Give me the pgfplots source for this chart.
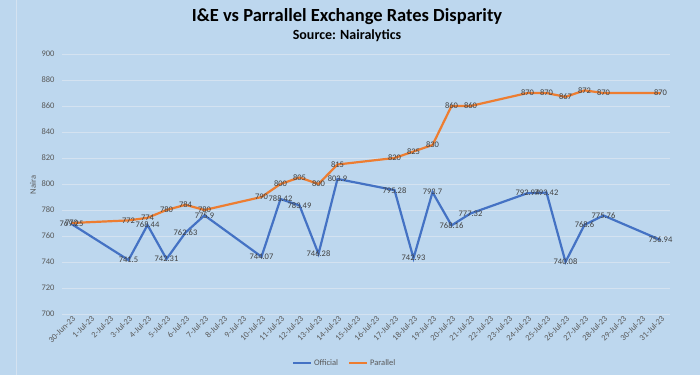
\documentclass[border=0pt]{standalone}
\usepackage{fontspec}
\setmainfont{Carlito}
\usepackage{pgfplots}
\pgfplotsset{compat=1.18}
\definecolor{bg}{RGB}{189,215,238}
\definecolor{gridc}{RGB}{212,226,240}
\definecolor{tickc}{RGB}{89,89,89}
\definecolor{lblc}{RGB}{64,64,64}
\definecolor{offc}{RGB}{68,114,196}
\definecolor{parc}{RGB}{237,125,49}
\begin{document}
\begin{tikzpicture}[x=1pt,y=1pt]
\fill[bg] (0,0) rectangle (700,375);
\useasboundingbox (0,0) rectangle (700,375);
\draw[gridc, line width=0.6pt] (16.5,0) -- (16.5,375);
\node[font=\bfseries\fontsize{18.5}{22}\selectfont, text=black] at (347,358) {I\&E vs Parrallel Exchange Rates Disparity};
\node[font=\bfseries\fontsize{14}{17}\selectfont, text=black] at (347,339) {Source: Nairalytics};
\begin{axis}[
  at={(62pt,61pt)}, anchor=south west,
  scale only axis, width=608pt, height=260pt,
  xmin=-0.5, xmax=31.5, ymin=700, ymax=900,
  ytick={700,720,...,900},
  xtick={0,...,31},
  xticklabels={30-Jun-23,1-Jul-23,2-Jul-23,3-Jul-23,4-Jul-23,5-Jul-23,6-Jul-23,7-Jul-23,8-Jul-23,9-Jul-23,10-Jul-23,11-Jul-23,12-Jul-23,13-Jul-23,14-Jul-23,15-Jul-23,16-Jul-23,17-Jul-23,18-Jul-23,19-Jul-23,20-Jul-23,21-Jul-23,22-Jul-23,23-Jul-23,24-Jul-23,25-Jul-23,26-Jul-23,27-Jul-23,28-Jul-23,29-Jul-23,30-Jul-23,31-Jul-23},
  /pgf/number format/assume math mode=true,
  axis line style={draw=none},
  major tick length=0pt,
  ymajorgrids, grid style={gridc, line width=0.8pt},
  tick label style={font=\fontsize{8.5}{10}\selectfont, text=tickc},
  x tick label style={rotate=45, anchor=east, xshift=3pt, yshift=-4pt},
  y tick label style={xshift=-4pt},
  ylabel={Naira},
  ylabel style={at={(axis description cs:-0.0477,0.496)}, anchor=center, font=\fontsize{8.5}{10}\selectfont, text=tickc},
  legend style={at={(axis description cs:0.465,-0.19)}, anchor=center, draw=none, fill=none,
    legend columns=2, font=\fontsize{8.5}{10}\selectfont, text=tickc,
    /tikz/every even column/.append style={column sep=8pt}},
  legend image code/.code={\draw[#1, line width=2pt] (0pt,0pt) -- (18pt,0pt);},
  nodes near coords,
  every node near coord/.append style={anchor=center, font=\fontsize{8.5}{10}\selectfont, text=lblc},
]
\addplot[offc, line width=2.2pt] coordinates {
(0,769.25)(3,741.5)(4,768.44)(5,742.31)(6,762.63)(7,775.9)(10,744.07)(11,788.42)(12,783.49)(13,746.28)(14,803.9)(17,795.28)(18,742.93)(19,793.7)(20,768.16)(21,777.32)(24,792.94)(25,793.42)(26,740.08)(27,768.6)(28,775.76)(31,756.94)
};
\addlegendentry{Official}
\addplot[parc, line width=2.2pt] coordinates {
(0,770)(3,772)(4,774)(5,780)(6,784)(7,780)(10,790)(11,800)(12,805)(13,800)(14,815)(17,820)(18,825)(19,830)(20,860)(21,860)(24,870)(25,870)(26,867)(27,872)(28,870)(31,870)
};
\addlegendentry{Parallel}
\end{axis}
\end{tikzpicture}
\end{document}
